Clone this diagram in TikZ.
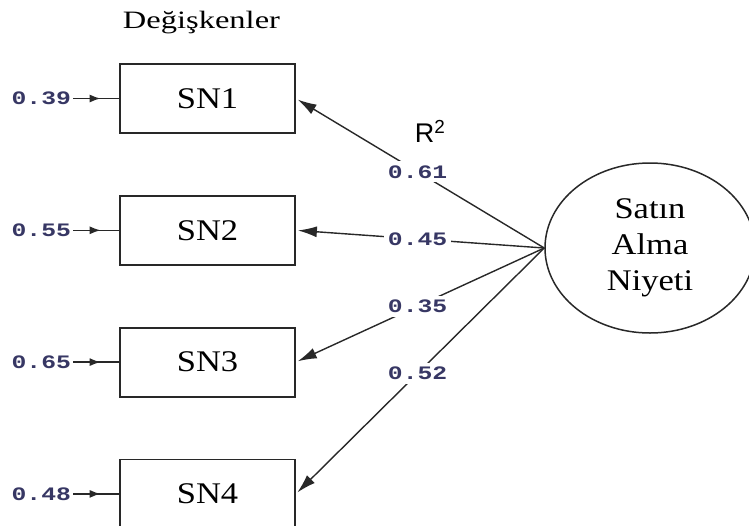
\documentclass[tikz,border=0pt]{standalone}
\usepackage{fontspec}
\setmainfont{Liberation Serif}
\newfontfamily\boxfont[FakeStretch=1.15]{Liberation Serif}
\newfontfamily\headfont[FakeStretch=1.3]{Liberation Serif}
\newfontfamily\coeffont[FakeStretch=1.3]{Liberation Mono}
\newfontfamily\rsqfont{Liberation Sans}
\usepackage{xcolor}
\usepackage{tikz}
\usetikzlibrary{shapes.geometric, arrows.meta, positioning, decorations.markings}
\definecolor{coefblue}{RGB}{55,55,100}
\definecolor{linegray}{RGB}{40,40,40}

\begin{document}
\begin{tikzpicture}[
    x=1pt, y=-1pt,
    obs/.style={rectangle, draw=linegray, line width=1.8pt, minimum width=175pt, minimum height=69pt, inner sep=0pt, font=\boxfont\fontsize{30}{36}\selectfont},
    latent/.style={ellipse, draw=linegray, line width=1.5pt, minimum width=210pt, minimum height=170pt, align=center, inner sep=0pt, font=\boxfont\fontsize{30}{36}\selectfont},
    coef/.style={fill=white, inner sep=4pt, text=coefblue, font=\coeffont\bfseries\fontsize{19}{21}\selectfont},
    arr/.style={-{Latex[length=19pt, width=11pt]}, line width=1.4pt, draw=linegray, shorten >=2pt},
    errarr/.style={line width=1.6pt, draw=linegray, decoration={markings, mark=at position 0.6 with {\arrow{Latex[length=11pt, width=8pt]}}}, postaction=decorate},
    node distance=61pt
]
\useasboundingbox (0,0) rectangle (749,525);

\node[obs] (SN1) at (207.5,98.5) {SN1};
\node[obs, below=of SN1] (SN2) {SN2};
\node[obs, below=of SN2] (SN3) {SN3};
\node[obs, below=of SN3] (SN4) {SN4};

\node[above=29pt of SN1, xshift=-6pt, inner sep=0pt, font=\headfont\fontsize{25}{30}\selectfont] (vars) {Değişkenler};

\node[latent] (SAN) at (650,248) {Satın\\Alma\\Niyeti};

\node[font=\rsqfont\fontsize{27}{30}\selectfont] (rsq) at (430,131) {R\textsuperscript{2}};

% error terms
\node[coef, fill=none, inner sep=2pt, left=46pt of SN1] (e1) {0.39};
\node[coef, fill=none, inner sep=2pt, left=46pt of SN2] (e2) {0.55};
\node[coef, fill=none, inner sep=2pt, left=46pt of SN3] (e3) {0.65};
\node[coef, fill=none, inner sep=2pt, left=46pt of SN4] (e4) {0.48};

\draw[errarr] (e1) -- (SN1);
\draw[errarr] (e2) -- (SN2);
\draw[errarr] (e3) -- (SN3);
\draw[errarr] (e4) -- (SN4);

% loadings
\draw[arr] (SAN.west) -- node[coef, pos=0.51] {0.61} (SN1.east);
\draw[arr] (SAN.west) -- node[coef, pos=0.51] {0.45} (SN2.east);
\draw[arr] (SAN.west) -- node[coef, pos=0.51] {0.35} (SN3.east);
\draw[arr] (SAN.west) -- node[coef, pos=0.51] {0.52} (SN4.east);

\end{tikzpicture}
\end{document}
